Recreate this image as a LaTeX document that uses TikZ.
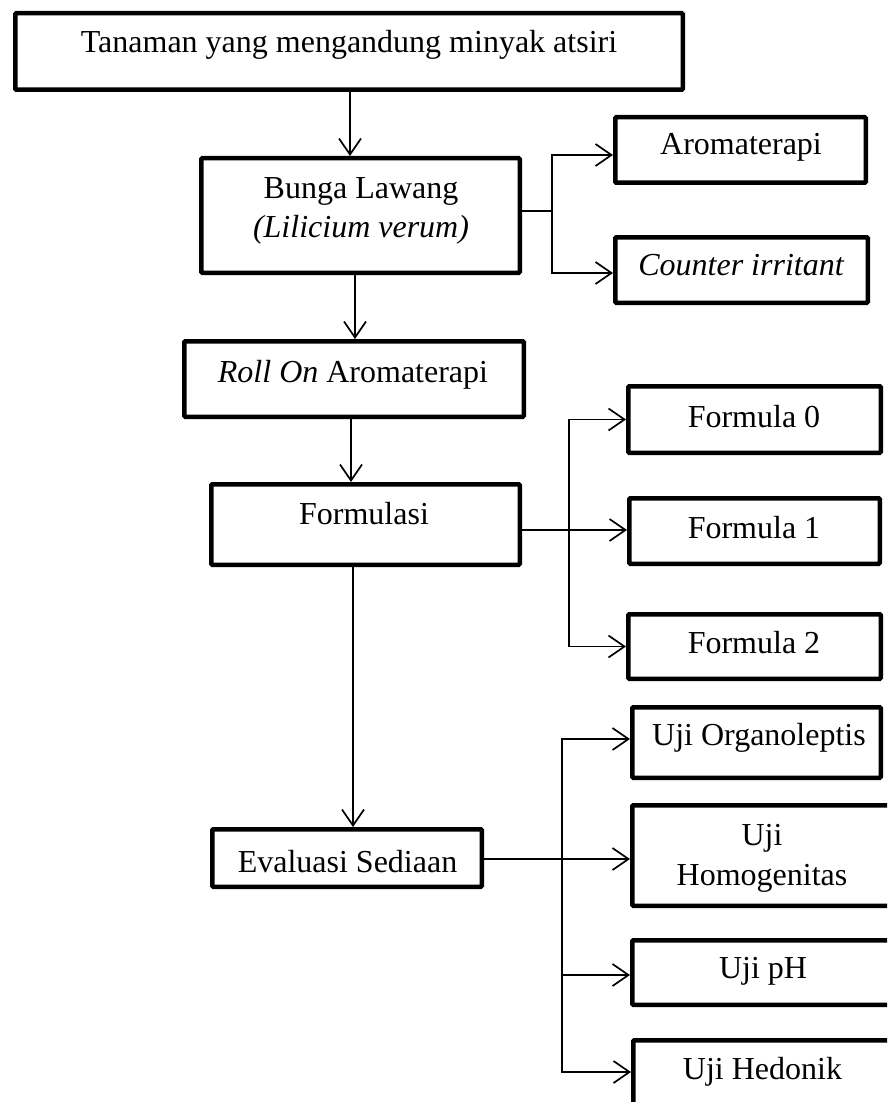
\documentclass[tikz,border=0pt]{standalone}
\usepackage{fontspec}
\setmainfont{Liberation Serif}
\usetikzlibrary{arrows.meta}
\begin{document}
\begin{tikzpicture}[x=1pt,y=-1pt,
  box/.style={draw, line width=4.5pt, rounded corners=1pt, inner sep=0pt},
  txt/.style={anchor=base, inner sep=0pt, font=\fontsize{32}{39.5}\selectfont},
  arr/.style={line width=1.7pt, -{Straight Barb[length=16pt,width=22pt,line width=1.7pt]}},
  ln/.style={line width=1.7pt}]
\useasboundingbox (0,0) rectangle (887,1102);
\fill[white] (0,0) rectangle (887,1102);
\clip (0,0) rectangle (887,1102);
% boxes
\node[box, minimum width=667.5pt, minimum height=76.5pt] (b1) at (349,51.5) {};
\node[box, minimum width=318.5pt, minimum height=114.5pt] (b2) at (360.5,215.5) {};
\node[box, minimum width=250.5pt, minimum height=65.5pt] (aro) at (740.5,150) {};
\node[box, minimum width=252.5pt, minimum height=65.5pt] (ci) at (741.5,270) {};
\node[box, minimum width=339.5pt, minimum height=75.5pt] (b3) at (354,379) {};
\node[box, minimum width=308.5pt, minimum height=80.5pt] (b4) at (365.5,524.5) {};
\node[box, minimum width=252.5pt, minimum height=66.5pt] (f0) at (754.5,419.5) {};
\node[box, minimum width=250.5pt, minimum height=65.5pt] (f1) at (754.5,531) {};
\node[box, minimum width=252.5pt, minimum height=64.5pt] (f2) at (754.5,646.5) {};
\node[box, minimum width=269.5pt, minimum height=57.5pt] (ev) at (347,858) {};
\node[box, minimum width=248.5pt, minimum height=70.5pt] (uo) at (756.5,742.5) {};
\node[box, minimum width=259.5pt, minimum height=100.5pt] (uh) at (762,855.5) {};
\node[box, minimum width=259.5pt, minimum height=64.5pt] (up) at (762,972.5) {};
\node[box, minimum width=258.5pt, minimum height=77.5pt] (uhd) at (762.5,1079) {};
% texts
\node[txt] (t1) at (349,53) {Tanaman yang mengandung minyak atsiri};
\node[txt] (t2a) at (361,198) {Bunga Lawang};
\node[txt] (t2b) at (361,237.5) {\itshape (Lilicium verum)};
\node[txt] (taro) at (741,155) {Aromaterapi};
\node[txt] (tci) at (741,275) {\itshape Counter irritant};
\node[txt] (t3) at (353,382) {\textit{Roll On} Aromaterapi};
\node[txt] (t4) at (364,524) {Formulasi};
\node[txt] (tf0) at (754,427) {Formula 0};
\node[txt] (tf1) at (754,538) {Formula 1};
\node[txt] (tf2) at (754,653) {Formula 2};
\node[txt] (tev) at (347.5,872) {Evaluasi Sediaan};
\node[txt] (tuo) at (759,745) {Uji Organoleptis};
\node[txt] (tuha) at (762,845) {Uji};
\node[txt] (tuhb) at (762,885) {Homogenitas};
\node[txt] (tup) at (763,978) {Uji pH};
\node[txt] (tuhd) at (762.5,1079) {Uji Hedonik};
% helper coordinates
\coordinate (xa) at (350,0);
\coordinate (xb) at (355,0);
\coordinate (xc) at (351,0);
\coordinate (xd) at (353,0);
\coordinate (ja) at (552,211);
\coordinate (jf) at (569,530);
\coordinate (je) at (562,859);
% main chain
\draw[arr] (b1.south -| xa) -- (b2.north -| xa);
\draw[arr] (b2.south -| xb) -- (b3.north -| xb);
\draw[arr] (b3.south -| xc) -- (b4.north -| xc);
\draw[arr] (b4.south -| xd) -- (ev.north -| xd);
% Bunga Lawang branch
\draw[ln] (b2.east |- ja) -- (ja);
\draw[arr] (ja) |- ([yshift=-5pt]aro.west);
\draw[arr] (ja) |- ([yshift=-3pt]ci.west);
% Formulasi branch
\draw[arr] (b4.east |- jf) -- (f1.west |- jf);
\draw[arr] (jf) |- (f0.west);
\draw[arr] (jf) |- (f2.west);
% Evaluasi branch
\draw[arr] (ev.east |- je) -- (uh.west |- je);
\draw[arr] (je) |- ([yshift=3.5pt]uo.west);
\draw[arr] (je) |- ([yshift=-2.5pt]up.west);
\draw[arr] (je) |- ([yshift=7pt]uhd.west);
\end{tikzpicture}
\end{document}
